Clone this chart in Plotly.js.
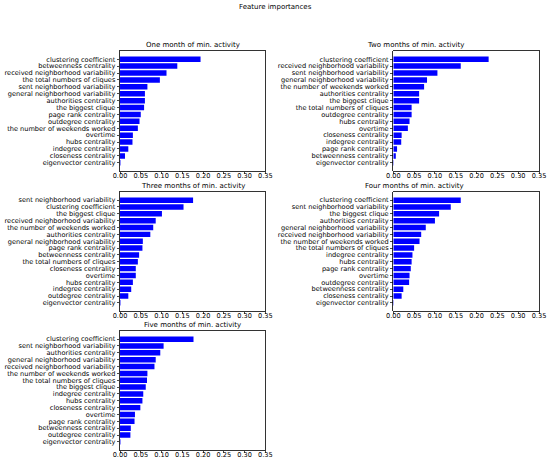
<!DOCTYPE html>
<html>
<head>
<meta charset="utf-8">
<script src="https://cdn.plot.ly/plotly-3.0.1.min.js"></script>
<style>html,body{margin:0;padding:0;background:#fff;}#chart{width:550px;height:466px;}</style>
</head>
<body>
<div id="chart"></div>
<script>
// Feature names (top to bottom) and importances for each panel
const title1 = "One month of min. activity";
const labels1 = ["clustering coefficient","betweenness centrality","received neighborhood variability","the total numbers of cliques","sent neighborhood variability","general neighborhood variability","authorities centrality","the biggest clique","page rank centrality","outdegree centrality","the number of weekends worked","overtime","hubs centrality","indegree centrality","closeness centrality","eigenvector centrality"];
const values1 = [0.194,0.138,0.112,0.096,0.066,0.060,0.060,0.058,0.050,0.047,0.043,0.031,0.030,0.020,0.012,0.001];

const title2 = "Two months of min. activity";
const labels2 = ["clustering coefficient","received neighborhood variability","sent neighborhood variability","general neighborhood variability","the number of weekends worked","authorities centrality","the biggest clique","the total numbers of cliques","outdegree centrality","hubs centrality","overtime","closeness centrality","indegree centrality","page rank centrality","betweenness centrality","eigenvector centrality"];
const values2 = [0.229,0.162,0.106,0.081,0.074,0.062,0.062,0.044,0.044,0.039,0.035,0.020,0.019,0.009,0.006,0.001];

const title3 = "Three months of min. activity";
const labels3 = ["sent neighborhood variability","clustering coefficient","the biggest clique","received neighborhood variability","the number of weekends worked","authorities centrality","general neighborhood variability","page rank centrality","betweenness centrality","the total numbers of cliques","closeness centrality","overtime","hubs centrality","indegree centrality","outdegree centrality","eigenvector centrality"];
const values3 = [0.176,0.153,0.101,0.086,0.080,0.073,0.055,0.054,0.046,0.043,0.038,0.038,0.031,0.027,0.020,0.001];

const title4 = "Four months of min. activity";
const labels4 = ["clustering coefficient","sent neighborhood variability","the biggest clique","authorities centrality","general neighborhood variability","received neighborhood variability","the number of weekends worked","the total numbers of cliques","indegree centrality","hubs centrality","page rank centrality","overtime","outdegree centrality","betweenness centrality","closeness centrality","eigenvector centrality"];
const values4 = [0.162,0.138,0.110,0.100,0.078,0.067,0.063,0.050,0.046,0.044,0.042,0.039,0.038,0.024,0.020,0.001];

const title5 = "Five months of min. activity";
const labels5 = ["clustering coefficient","sent neighborhood variability","authorities centrality","general neighborhood variability","received neighborhood variability","the number of weekends worked","the total numbers of cliques","the biggest clique","indegree centrality","hubs centrality","closeness centrality","overtime","page rank centrality","betweenness centrality","outdegree centrality","eigenvector centrality"];
const values5 = [0.177,0.105,0.097,0.086,0.083,0.066,0.065,0.062,0.056,0.054,0.049,0.036,0.035,0.026,0.025,0.001];

const xTicks = [0,0.05,0.10,0.15,0.20,0.25,0.30,0.35];
const suptitle = "Feature importances";

const panels = [
  {t:title1,l:labels1,v:values1,x:[0.2182,0.4824],y:[0.633,0.8906]},
  {t:title2,l:labels2,v:values2,x:[0.7151,0.980],y:[0.633,0.8906]},
  {t:title3,l:labels3,v:values3,x:[0.2182,0.4824],y:[0.3326,0.588]},
  {t:title4,l:labels4,v:values4,x:[0.7151,0.980],y:[0.3326,0.588]},
  {t:title5,l:labels5,v:values5,x:[0.2182,0.4824],y:[0.0343,0.2897]}
];

const FONT = "DejaVu Sans, sans-serif";
const LSIZE = 6.6;
const TSIZE = 7;
const data = [];
const layout = {
  width:550, height:466,
  margin:{l:0,r:0,t:0,b:0},
  paper_bgcolor:"#fff", plot_bgcolor:"#fff",
  showlegend:false,
  bargap:0.2,
  font:{family:FONT,size:LSIZE,color:"#000"},
  annotations:[{text:suptitle,xref:"paper",yref:"paper",x:0.5,y:1,yanchor:"top",yshift:-1,showarrow:false,font:{family:FONT,size:TSIZE,color:"#000"}}]
};

panels.forEach((p,i)=>{
  const n = i+1;
  const xa = n===1 ? "x" : "x"+n;
  const ya = n===1 ? "y" : "y"+n;
  const idx = p.l.map((_,k)=>k);
  data.push({type:"bar",orientation:"h",x:p.v,y:idx,xaxis:xa,yaxis:ya,
    marker:{color:"#0000ff",line:{width:0}},width:0.8,hoverinfo:"skip"});
  const xkey = n===1 ? "xaxis" : "xaxis"+n;
  const ykey = n===1 ? "yaxis" : "yaxis"+n;
  layout[xkey] = {domain:p.x,anchor:ya,range:[0,0.35],tickmode:"array",tickvals:xTicks,
    ticktext:xTicks.map(v=>v.toFixed(2)),ticks:"outside",ticklen:2.5,tickwidth:0.7,tickcolor:"#000",
    ticklabelstandoff:-4,
    showline:true,mirror:true,linecolor:"#000",linewidth:0.8,showgrid:false,zeroline:false,
    tickfont:{family:FONT,size:LSIZE,color:"#000"}};
  layout[ykey] = {domain:p.y,anchor:xa,range:[15+1.19,-1.19],tickmode:"array",tickvals:idx,ticktext:p.l,
    ticks:"outside",ticklen:2.5,tickwidth:0.7,tickcolor:"#000",
    showline:true,mirror:true,linecolor:"#000",linewidth:0.8,showgrid:false,zeroline:false,
    tickfont:{family:FONT,size:LSIZE,color:"#000"}};
  layout.annotations.push({text:p.t,xref:"paper",yref:"paper",x:(p.x[0]+p.x[1])/2,y:p.y[1],
    yanchor:"bottom",yshift:0,showarrow:false,font:{family:FONT,size:TSIZE,color:"#000"}});
});

Plotly.newPlot("chart",data,layout,{staticPlot:true,displayModeBar:false});
</script>
</body>
</html>
